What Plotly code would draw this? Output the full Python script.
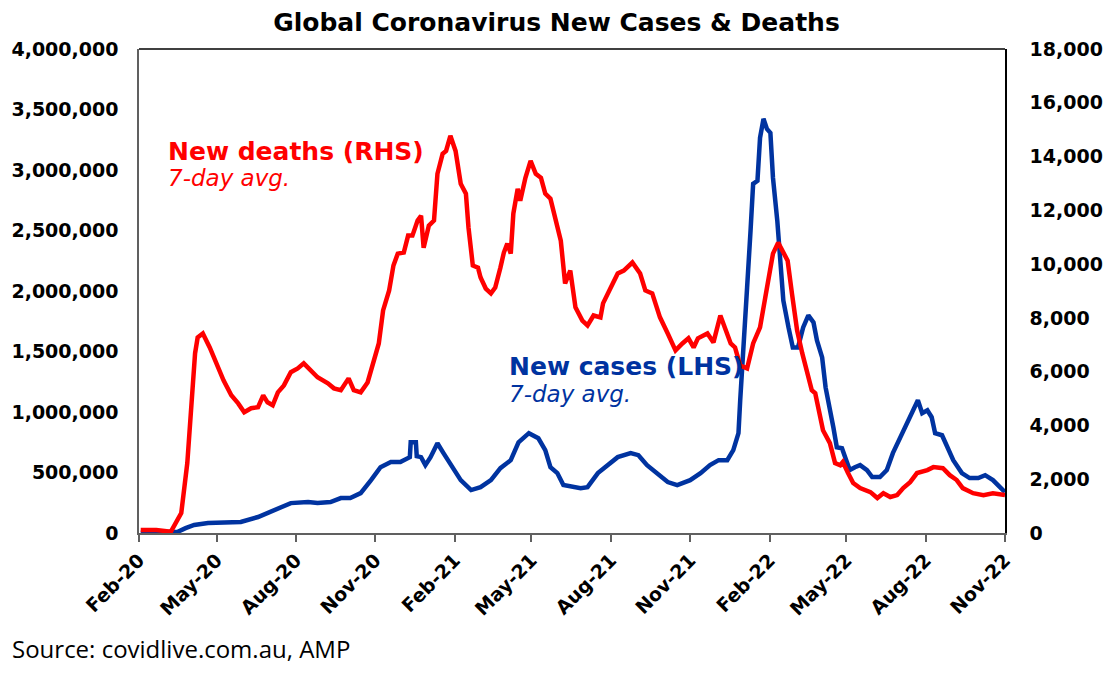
import plotly.graph_objects as go

# 7-day avg new deaths (RHS)
death_dates = ["2020-02-03", "2020-02-21", "2020-03-09", "2020-03-21", "2020-03-28",
               "2020-04-03", "2020-04-06", "2020-04-09", "2020-04-15", "2020-04-23",
               "2020-05-02", "2020-05-09", "2020-05-18", "2020-05-26",
               "2020-06-02", "2020-06-10", "2020-06-18", "2020-06-24", "2020-06-29",
               "2020-07-05", "2020-07-11", "2020-07-18", "2020-07-26",
               "2020-08-03", "2020-08-10", "2020-08-18", "2020-08-26",
               "2020-09-07", "2020-09-14", "2020-09-22",
               "2020-10-01", "2020-10-07", "2020-10-15", "2020-10-23", "2020-10-30",
               "2020-11-05", "2020-11-10", "2020-11-17", "2020-11-22", "2020-11-27",
               "2020-12-04", "2020-12-09", "2020-12-14", "2020-12-20", "2020-12-24", "2020-12-27",
               "2021-01-02", "2021-01-08", "2021-01-12", "2021-01-18", "2021-01-22", "2021-01-27",
               "2021-02-02", "2021-02-08", "2021-02-14", "2021-02-17", "2021-02-22", "2021-02-28",
               "2021-03-03", "2021-03-09", "2021-03-15", "2021-03-20", "2021-03-26", "2021-03-30",
               "2021-04-03", "2021-04-07", "2021-04-10", "2021-04-15", "2021-04-18", "2021-04-24", "2021-04-30",
               "2021-05-06", "2021-05-12", "2021-05-17", "2021-05-23", "2021-05-29",
               "2021-06-04", "2021-06-09", "2021-06-15", "2021-06-21", "2021-06-29",
               "2021-07-05", "2021-07-12", "2021-07-20", "2021-07-23",
               "2021-08-01", "2021-08-09", "2021-08-16", "2021-08-26",
               "2021-09-04", "2021-09-10", "2021-09-18", "2021-09-27",
               "2021-10-06", "2021-10-15", "2021-10-23", "2021-10-30",
               "2021-11-05", "2021-11-10", "2021-11-21", "2021-11-28",
               "2021-12-06", "2021-12-12", "2021-12-18", "2021-12-23", "2021-12-29",
               "2022-01-06", "2022-01-13", "2022-01-21", "2022-01-27",
               "2022-02-02", "2022-02-05", "2022-02-11", "2022-02-17", "2022-02-22", "2022-02-27",
               "2022-03-05", "2022-03-11", "2022-03-17", "2022-03-22", "2022-03-26", "2022-03-29",
               "2022-04-04", "2022-04-12", "2022-04-18", "2022-04-24", "2022-04-27",
               "2022-05-03", "2022-05-09", "2022-05-17", "2022-05-29",
               "2022-06-06", "2022-06-13", "2022-06-21", "2022-06-29",
               "2022-07-06", "2022-07-14", "2022-07-22",
               "2022-08-03", "2022-08-10", "2022-08-21", "2022-08-29",
               "2022-09-06", "2022-09-13", "2022-09-25",
               "2022-10-07", "2022-10-18", "2022-11-01"]
new_deaths = [110, 110, 50, 740, 2600,
              5050, 6680, 7270, 7420, 6900,
              6160, 5680, 5120, 4820,
              4490, 4640, 4680, 5120, 4860,
              4750, 5230, 5490, 5980,
              6120, 6310, 6050, 5790,
              5570, 5380, 5310,
              5750, 5310, 5230, 5600, 6310,
              7050, 8280, 9020, 9950, 10390,
              10430, 11060, 11060, 11620, 11800, 10610,
              11430, 11620, 13360, 14100, 14210, 14770,
              14210, 12990, 12620, 11360, 9950, 9870,
              9500, 9090, 8910, 9130, 9870, 10430,
              10760, 10390, 11880, 12800, 12360, 13210, 13840,
              13360, 13210, 12620, 12430, 11620,
              10870, 9280, 9760, 8390, 7900,
              7720, 8090, 8020, 8540,
              9130, 9650, 9760, 10060,
              9650, 9020, 8910, 8020,
              7420, 6790, 7050, 7240,
              6900, 7240, 7420, 7090,
              8090, 7530, 7050, 6900, 6230,
              6120, 7050, 7650, 8760,
              9870, 10390, 10800, 10390, 10130, 8910,
              7530, 6680, 5940, 5310, 5200, 4750,
              3820, 3340, 2600, 2520, 2640,
              2230, 1860, 1670, 1520,
              1300, 1480, 1340, 1410,
              1670, 1890, 2230,
              2340, 2450, 2410, 2150,
              1970, 1670, 1480,
              1410, 1480, 1410]

# 7-day avg new cases (LHS)
case_dates = ["2020-02-03", "2020-03-17", "2020-03-26", "2020-04-05", "2020-04-21",
              "2020-05-09", "2020-05-29", "2020-06-18", "2020-07-06", "2020-07-26",
              "2020-08-15", "2020-08-26", "2020-09-10", "2020-09-22", "2020-10-03",
              "2020-10-15", "2020-10-27", "2020-11-07", "2020-11-19", "2020-11-30",
              "2020-12-11", "2020-12-12", "2020-12-18", "2020-12-19", "2020-12-24", "2020-12-29",
              "2021-01-04", "2021-01-12", "2021-01-19", "2021-01-27",
              "2021-02-08", "2021-02-20", "2021-03-03", "2021-03-15", "2021-03-26",
              "2021-04-07", "2021-04-16", "2021-04-28", "2021-05-09", "2021-05-17",
              "2021-05-23", "2021-05-31", "2021-06-07", "2021-06-27", "2021-07-05",
              "2021-07-17", "2021-07-28", "2021-08-09", "2021-08-24", "2021-09-02",
              "2021-09-12", "2021-09-24", "2021-10-06", "2021-10-17", "2021-11-01",
              "2021-11-13", "2021-11-24", "2021-12-04", "2021-12-14", "2021-12-21",
              "2021-12-27", "2021-12-29", "2022-01-02", "2022-01-06", "2022-01-10",
              "2022-01-13", "2022-01-18", "2022-01-21", "2022-01-25", "2022-01-29",
              "2022-02-02", "2022-02-05", "2022-02-10", "2022-02-13", "2022-02-17",
              "2022-02-23", "2022-02-28", "2022-03-06", "2022-03-12", "2022-03-18",
              "2022-03-24", "2022-03-28", "2022-04-03", "2022-04-07", "2022-04-12",
              "2022-04-16", "2022-04-20", "2022-04-26", "2022-04-30", "2022-05-05",
              "2022-05-11", "2022-05-17", "2022-05-25", "2022-05-31", "2022-06-09",
              "2022-06-17", "2022-06-24", "2022-07-02", "2022-07-12", "2022-07-17",
              "2022-07-23", "2022-07-28", "2022-08-03", "2022-08-08", "2022-08-12",
              "2022-08-20", "2022-08-26", "2022-09-02", "2022-09-12", "2022-09-21",
              "2022-10-01", "2022-10-09", "2022-10-18", "2022-10-26", "2022-11-01"]
new_cases = [2000, 10000, 40000, 66000, 82000,
             82000, 91000, 132000, 190000, 247000,
             256000, 247000, 256000, 289000, 289000,
             330000, 437000, 544000, 586000, 586000,
             627000, 750000, 750000, 635000, 627000, 561000,
             627000, 742000, 660000, 577000,
             437000, 355000, 379000, 437000, 536000,
             602000, 750000, 825000, 783000, 685000,
             544000, 495000, 396000, 371000, 379000,
             495000, 561000, 627000, 660000, 643000,
             561000, 495000, 421000, 396000, 437000,
             495000, 561000, 602000, 602000, 685000,
             825000, 1097000, 1509000, 2029000, 2499000,
             2886000, 2911000, 3266000, 3423000, 3340000,
             3307000, 2936000, 2581000, 2251000, 1922000,
             1699000, 1534000, 1534000, 1699000, 1798000,
             1740000, 1592000, 1451000, 1204000, 1039000,
             874000, 709000, 701000, 619000, 520000,
             544000, 561000, 520000, 462000, 462000,
             520000, 660000, 783000, 932000, 1014000,
             1097000, 990000, 1014000, 957000, 825000,
             808000, 709000, 602000, 495000, 454000,
             454000, 478000, 437000, 379000, 338000]

x_ticks = ["2020-02-01", "2020-05-01", "2020-08-01", "2020-11-01",
           "2021-02-01", "2021-05-01", "2021-08-01", "2021-11-01",
           "2022-02-01", "2022-05-01", "2022-08-01", "2022-11-01"]
x_labels = ["Feb-20", "May-20", "Aug-20", "Nov-20", "Feb-21", "May-21",
            "Aug-21", "Nov-21", "Feb-22", "May-22", "Aug-22", "Nov-22"]

RED = "#FF0000"
BLUE = "#0033A0"
FONT = "DejaVu Sans"

fig = go.Figure()
fig.add_trace(go.Scatter(x=death_dates, y=new_deaths, mode="lines", yaxis="y2",
                         line=dict(color=RED, width=4.5), name="New deaths (RHS)"))
fig.add_trace(go.Scatter(x=case_dates, y=new_cases, mode="lines",
                         line=dict(color=BLUE, width=4.5), name="New cases (LHS)"))

tick_font = dict(family=FONT, size=19, color="black", weight="bold")

fig.update_layout(
    width=1113, height=681, autosize=False,
    margin=dict(l=139, r=108, t=49, b=148),
    paper_bgcolor="white", plot_bgcolor="white",
    showlegend=False,
    title=dict(text="<b>Global Coronavirus New Cases & Deaths</b>",
               font=dict(family=FONT, size=25, color="black"),
               x=0.5, xanchor="center", xref="container",
               y=1 - 22 / 681, yanchor="middle", yref="container"),
    xaxis=dict(type="date", range=["2020-02-01", "2022-11-01"],
               tickvals=x_ticks, ticktext=x_labels, tickangle=-45,
               ticks="outside", ticklen=7, tickcolor="#606060", tickwidth=1.5,
               showline=True, linecolor="#606060", linewidth=1.5,
               showgrid=False, zeroline=False, tickfont=tick_font,
               automargin=False),
    yaxis=dict(range=[0, 4000000], dtick=500000, tickformat=",",
               showline=True, linecolor="#606060", linewidth=1.5,
               showgrid=False, zeroline=False, ticks="",
               ticklabelstandoff=15, tickfont=tick_font, automargin=False),
    yaxis2=dict(range=[0, 18000], dtick=2000, tickformat=",",
                overlaying="y", side="right",
                showline=True, linecolor="black", linewidth=1.5,
                showgrid=False, zeroline=False, ticks="",
                ticklabelstandoff=19, tickfont=tick_font, automargin=False),
)

# top border of the plot box
fig.add_shape(type="line", xref="paper", yref="paper", x0=0, x1=1, y0=1, y1=1,
              line=dict(color="black", width=1.5))


def px_x(p):
    return (p - 139) / 866


def px_y(p):
    return (533 - p) / 484


notes = [
    ("<b>New deaths (RHS)</b>", 166, 151, RED, 25, "normal"),
    ("7-day avg.", 166, 178, RED, 23, "italic"),
    ("<b>New cases (LHS)</b>", 507, 367, BLUE, 25, "normal"),
    ("7-day avg.", 507, 394, BLUE, 23, "italic"),
]
for text, nx, ny, col, size, style in notes:
    fig.add_annotation(text=text, xref="paper", yref="paper", x=px_x(nx), y=px_y(ny),
                       xanchor="left", yanchor="middle", showarrow=False,
                       font=dict(family=FONT, size=size, color=col, style=style))

fig.add_annotation(text="Source: covidlive.com.au, AMP", xref="paper", yref="paper",
                   x=px_x(10), y=px_y(648), xanchor="left", yanchor="middle",
                   showarrow=False, font=dict(family="Open Sans", size=24, color="black"))

fig.write_html("out.html", config={"displayModeBar": False},
               post_script="document.body.style.margin='0';")
